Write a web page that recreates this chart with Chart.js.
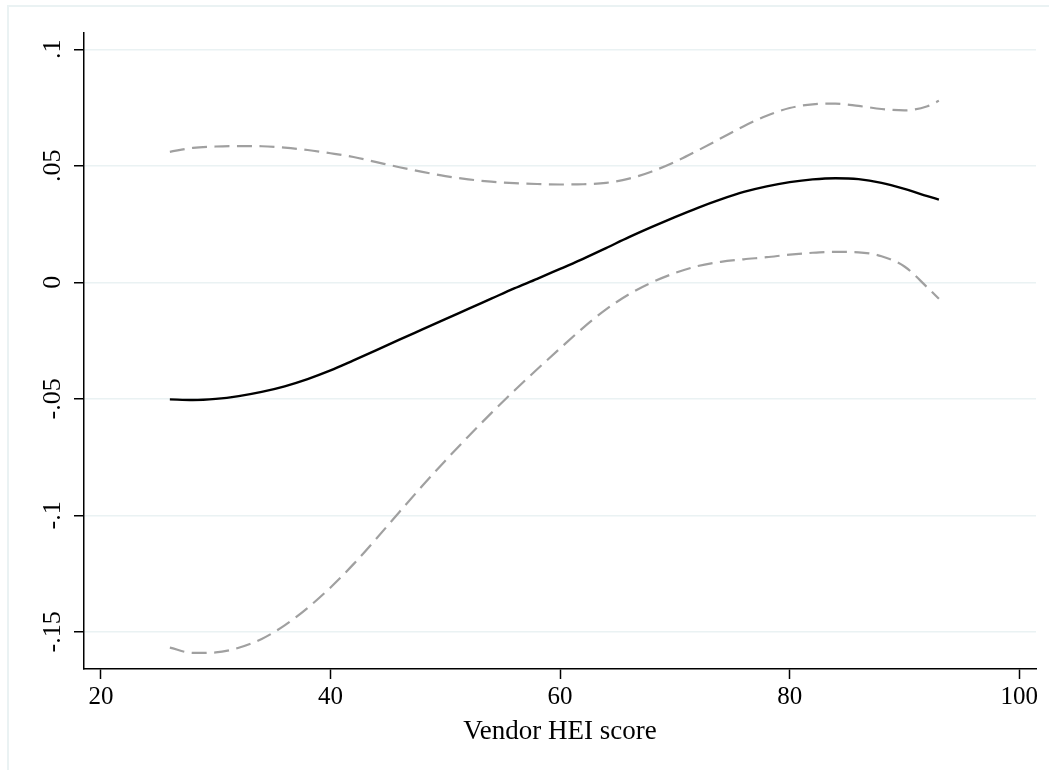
<!DOCTYPE html>
<html>
<head>
<meta charset="utf-8">
<script src="https://cdn.jsdelivr.net/npm/chart.js@4.4.1/dist/chart.umd.min.js"></script>
<style>
  html, body { margin: 0; padding: 0; background: #fff; }
  #wrap { width: 1049px; height: 770px; }
</style>
</head>
<body>
<div id="wrap"><canvas id="grafica" width="1049" height="770"></canvas></div>
<script>
// Puntos del eje X (Vendor HEI score) donde se leyeron las curvas
const hei = [26, 28, 30, 32, 34, 36, 38, 40, 42, 44, 46, 48, 50, 52, 54, 56, 58, 60, 62, 64,
             66, 68, 70, 72, 74, 76, 78, 80, 82, 84, 86, 88, 90, 92, 93];
// Curva ajustada (linea negra)
const fitted = [-0.0502, -0.0505, -0.0500, -0.0488, -0.0470, -0.0446, -0.0415, -0.0378, -0.0335, -0.0291,
                -0.0246, -0.0202, -0.0158, -0.0114, -0.0070, -0.0026, 0.0015, 0.0058, 0.0101, 0.0147,
                0.0194, 0.0238, 0.0280, 0.0320, 0.0356, 0.0388, 0.0412, 0.0430, 0.0442, 0.0447,
                0.0443, 0.0427, 0.0401, 0.0370, 0.0355];
// Limite superior del intervalo (discontinua gris)
const upper = [0.0560, 0.0577, 0.0583, 0.0585, 0.0584, 0.0578, 0.0568, 0.0554, 0.0538, 0.0516,
               0.0494, 0.0474, 0.0456, 0.0442, 0.0432, 0.0426, 0.0422, 0.0420, 0.0421, 0.0427,
               0.0445, 0.0476, 0.0517, 0.0566, 0.0618, 0.0670, 0.0715, 0.0748, 0.0764, 0.0767,
               0.0757, 0.0744, 0.0738, 0.0756, 0.0779];
// Limite inferior del intervalo (discontinua gris)
const lower = [-0.1567, -0.1590, -0.1588, -0.1568, -0.1530, -0.1472, -0.1397, -0.1309, -0.1209, -0.1099,
               -0.0985, -0.0873, -0.0765, -0.0661, -0.0561, -0.0465, -0.0373, -0.0283, -0.0195, -0.0116,
               -0.0051, 0.0000, 0.0040, 0.0070, 0.0088, 0.0099, 0.0108, 0.0119, 0.0127, 0.0131,
               0.0129, 0.0112, 0.0068, -0.0022, -0.0070];

// Marcas de los ejes y sus etiquetas al estilo Stata
const xTicks = [20, 40, 60, 80, 100];
const yTicks = [-0.15, -0.1, -0.05, 0, 0.05, 0.1];
const yTickLabels = ['-.15', '-.1', '-.05', '0', '.05', '.1'];

const SERIF = '"Liberation Serif", "Times New Roman", serif';

function toPoints(values) {
    return hei.map((x, i) => ({ x: x, y: values[i] }));
}

// Marco claro alrededor del grafico (solo se ve arriba y a la izquierda)
const framePlugin = {
    id: 'marco',
    beforeDraw(chart) {
        const ctx = chart.ctx;
        ctx.save();
        ctx.fillStyle = '#ffffff';
        ctx.fillRect(0, 0, chart.width, chart.height);
        ctx.strokeStyle = '#eaf2f3';
        ctx.lineWidth = 2;
        ctx.beginPath();
        ctx.moveTo(8, chart.height);
        ctx.lineTo(8, 6);
        ctx.lineTo(chart.width, 6);
        ctx.stroke();
        ctx.restore();
    }
};

new Chart(document.getElementById('grafica'), {
    type: 'line',
    data: {
        datasets: [
            { data: toPoints(upper), borderColor: '#a0a0a0', borderWidth: 2.2, borderDash: [15, 7.5], pointRadius: 0, cubicInterpolationMode: 'monotone', fill: false },
            { data: toPoints(lower), borderColor: '#a0a0a0', borderWidth: 2.2, borderDash: [15, 7.5], pointRadius: 0, cubicInterpolationMode: 'monotone', fill: false },
            { data: toPoints(fitted), borderColor: '#000000', borderWidth: 2.4, pointRadius: 0, cubicInterpolationMode: 'monotone', fill: false }
        ]
    },
    options: {
        responsive: false,
        animation: false,
        layout: { padding: { top: 33, right: 13, left: 0, bottom: 0 } },
        plugins: { legend: { display: false }, tooltip: { enabled: false } },
        scales: {
            x: {
                type: 'linear',
                min: 18.52,
                max: 101.46,
                afterBuildTicks: (scale) => { scale.ticks = xTicks.map(v => ({ value: v })); },
                afterFit: (scale) => { scale.height = 101; },
                ticks: { color: '#000', font: { family: SERIF, size: 25 }, padding: 3, maxRotation: 0, autoSkip: false },
                grid: { drawOnChartArea: false, drawTicks: true, tickLength: 10, tickColor: '#000', tickWidth: 1.5 },
                border: { display: true, color: '#000', width: 1.5 },
                title: { display: true, text: 'Vendor HEI score', color: '#000', font: { family: SERIF, size: 27 }, padding: { top: 0, bottom: 22 } }
            },
            y: {
                type: 'linear',
                min: -0.1659,
                max: 0.107,
                afterBuildTicks: (scale) => { scale.ticks = yTicks.map(v => ({ value: v })); },
                afterFit: (scale) => { scale.width = 84; },
                ticks: {
                    color: '#000',
                    font: { family: SERIF, size: 26 },
                    minRotation: 90,
                    maxRotation: 90,
                    crossAlign: 'center',
                    padding: 0,
                    autoSkip: false,
                    callback: (value) => {
                        const i = yTicks.findIndex(t => Math.abs(t - value) < 1e-9);
                        return i >= 0 ? yTickLabels[i] : '';
                    }
                },
                grid: { color: '#eaf2f3', lineWidth: 1.5, drawTicks: true, tickLength: 10, tickColor: '#000', tickWidth: 1.5 },
                border: { display: true, color: '#000', width: 1.5 }
            }
        }
    },
    plugins: [framePlugin]
});
</script>
</body>
</html>
